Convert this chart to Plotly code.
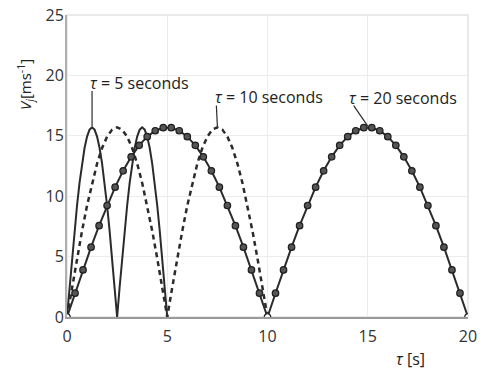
import plotly.graph_objects as go

# tau = 5 s curve (step 0.125 s)
t5 = [i * 0.125 for i in range(41)]
half5 = [0, 2.46, 4.85, 7.13, 9.23, 11.10, 12.70, 13.99, 14.93, 15.51, 15.70,
         15.51, 14.93, 13.99, 12.70, 11.10, 9.23, 7.13, 4.85, 2.46]
v5 = half5 + half5 + [0]

# tau = 10 s curve (step 0.25 s)
t10 = [i * 0.25 for i in range(41)]
v10 = half5 + half5 + [0]

# tau = 20 s curve with markers (step 0.4 s)
t20 = [round(i * 0.4, 2) for i in range(51)]
half20 = [0, 1.97, 3.90, 5.78, 7.56, 9.23, 10.75, 12.10, 13.26, 14.21, 14.93, 15.42, 15.67,
          15.67, 15.42, 14.93, 14.21, 13.26, 12.10, 10.75, 9.23, 7.56, 5.78, 3.90, 1.97]
v20 = half20 + half20 + [0]

x_ticks = [0, 5, 10, 15, 20]
y_ticks = [0, 5, 10, 15, 20, 25]

LINE = "#2b2b2b"
FONT = "Open Sans"
W, H = 481, 370
ML, MR, MT, MB = 67, 13, 15, 53
PW, PH = W - ML - MR, H - MT - MB

fig = go.Figure()
fig.add_trace(go.Scatter(x=t10, y=v10, mode="lines",
                         line=dict(color=LINE, width=2.5, dash="5px,4px")))
fig.add_trace(go.Scatter(x=t5, y=v5, mode="lines",
                         line=dict(color=LINE, width=2)))
marker_fill = ["white" if v == 0 else "#555555" for v in v20]
fig.add_trace(go.Scatter(x=t20, y=v20, mode="lines+markers",
                         line=dict(color=LINE, width=2),
                         marker=dict(size=6.5, color=marker_fill,
                                     line=dict(color="#1e1e1e", width=1.2))))

# white box hiding grid in upper right
fig.add_shape(type="rect", xref="x", yref="y", x0=14.4, x1=19.9, y0=20.3, y1=24.7,
              fillcolor="white", line=dict(width=0), layer="below")
# faint frame
fig.add_shape(type="rect", xref="paper", yref="paper", x0=0, x1=1, y0=0, y1=1,
              line=dict(color="#e4e4e4", width=1.5), layer="below")

# leader lines
fig.add_shape(type="line", xref="x", yref="y", x0=1.25, y0=18.7, x1=1.25, y1=15.8,
              line=dict(color=LINE, width=1.2))
fig.add_shape(type="line", xref="x", yref="y", x0=7.45, y0=17.5, x1=7.5, y1=15.8,
              line=dict(color=LINE, width=1.2))
fig.add_shape(type="line", xref="x", yref="y", x0=14.3, y0=17.5, x1=15.0, y1=15.8,
              line=dict(color=LINE, width=1.2))

ann_font = dict(family=FONT, size=16, color="#222222")
fig.add_annotation(x=1.05, y=19.35, xref="x", yref="y", text="<i>τ</i> = 5 seconds",
                   showarrow=False, xanchor="left", yanchor="middle", font=ann_font)
fig.add_annotation(x=7.3, y=18.2, xref="x", yref="y", text="<i>τ</i> = 10 seconds",
                   showarrow=False, xanchor="left", yanchor="middle", font=ann_font)
fig.add_annotation(x=13.95, y=18.1, xref="x", yref="y", text="<i>τ</i> = 20 seconds",
                   showarrow=False, xanchor="left", yanchor="middle", font=ann_font)

# axis titles (pixel positions converted to paper coords)
fig.add_annotation(x=(26 - ML) / PW, y=(H - MB - 85) / PH, xref="paper", yref="paper",
                   text="<i>V<sub>j</sub></i>[ms<sup>-1</sup>]",
                   xanchor="center", yanchor="middle",
                   showarrow=False, textangle=-90, font=dict(family=FONT, size=15, color="#222222"))
fig.add_annotation(x=17.15, y=(H - MB - 359) / PH, xref="x", yref="paper", text="<i>τ</i> [s]",
                   xanchor="center", yanchor="middle",
                   showarrow=False, font=ann_font)

fig.update_layout(
    width=W, height=H,
    margin=dict(l=ML, r=MR, t=MT, b=MB, autoexpand=False),
    paper_bgcolor="white", plot_bgcolor="white",
    showlegend=False,
    font=dict(family=FONT, size=16, color="#333333"),
    xaxis=dict(range=[0, 20], tickvals=x_ticks, showgrid=True, gridcolor="#ececec",
               zeroline=False, showline=True, linecolor="#9a9a9a", linewidth=1.5,
               ticks="", automargin=False, ticklabelstandoff=4,
               tickfont=dict(size=16, color="#333333")),
    yaxis=dict(range=[0, 25], tickvals=y_ticks, showgrid=True, gridcolor="#ececec",
               zeroline=False, showline=True, linecolor="#b0b0b0", linewidth=2,
               ticks="", automargin=False, ticklabelstandoff=-2,
               tickfont=dict(size=16, color="#333333")),
)

fig.write_html("out.html", config={"displayModeBar": False},
               post_script="document.body.style.margin='0';")
